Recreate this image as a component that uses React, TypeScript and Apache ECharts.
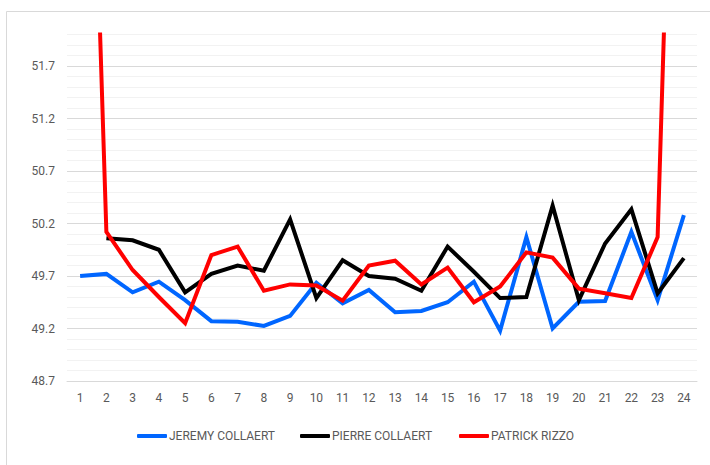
import React, { useEffect, useRef } from "react";
import * as echarts from "echarts";

const categories = ["1","2","3","4","5","6","7","8","9","10","11","12","13","14","15","16","17","18","19","20","21","22","23","24"];
const jeremy = [49.70,49.72,49.545,49.646,49.47,49.27,49.265,49.224,49.32,49.636,49.44,49.567,49.354,49.367,49.45,49.646,49.18,50.07,49.20,49.455,49.462,50.12,49.47,50.28];
const pierre: (number | null)[] = [null,50.06,50.04,49.95,49.545,49.72,49.80,49.75,50.24,49.49,49.85,49.70,49.674,49.56,49.98,49.74,49.49,49.50,50.37,49.47,50.01,50.335,49.535,49.87];
const patrick = [58.0,50.12,49.757,49.50,49.25,49.90,49.98,49.56,49.62,49.61,49.465,49.80,49.846,49.62,49.78,49.45,49.60,49.925,49.875,49.58,49.535,49.49,50.07,58.2];
const seriesNames = ["JEREMY COLLAERT", "PIERRE COLLAERT", "PATRICK RIZZO"];
const seriesColors = ["#0066ff", "#000000", "#ff0000"];
const yTickLabels = ["48.7", "49.2", "49.7", "50.2", "50.7", "51.2", "51.7"];

export default function App() {
  const ref = useRef<HTMLDivElement>(null);
  useEffect(() => {
    if (!ref.current) return;
    const chart = echarts.init(ref.current, null, { renderer: "svg" });
    const font = "Roboto, 'Noto Sans', sans-serif";
    const dataSets = [jeremy, pierre, patrick];
    const legendLefts = [132, 295, 454];
    chart.setOption({
      animation: false,
      backgroundColor: "#ffffff",
      graphic: [
        {
          type: "rect",
          shape: { x: 6.5, y: 11.5, width: 720, height: 470 },
          style: { fill: "none", stroke: "#d9d9d9", lineWidth: 1 },
          silent: true,
        },
      ],
      grid: { left: 67, right: 13, top: 34.5, bottom: 84 },
      legend: seriesNames.map((n, i) => ({
        data: [n],
        left: legendLefts[i],
        top: 425,
        icon: "roundRect",
        itemWidth: 30,
        itemHeight: 4,
        textStyle: { color: "#595959", fontSize: 12, fontFamily: font, padding: [0, 0, 0, -3] },
      })),
      xAxis: {
        type: "category",
        data: categories,
        boundaryGap: true,
        axisLine: { show: true, lineStyle: { color: "#d9d9d9", width: 1 } },
        axisTick: { show: false },
        axisLabel: { color: "#595959", fontSize: 12, fontFamily: font, margin: 11 },
        splitLine: { show: false },
      },
      yAxis: {
        type: "value",
        min: 48.7,
        max: 52.0,
        interval: 0.1,
        axisLine: { show: false },
        axisTick: { show: false },
        axisLabel: {
          color: "#595959",
          fontSize: 12,
          fontFamily: font,
          margin: 12,
          formatter: (v: number) => {
            const s = v.toFixed(1);
            return yTickLabels.includes(s) ? s : "";
          },
        },
        splitLine: {
          show: true,
          lineStyle: {
            color: ["#d9d9d9", "#f2f2f2", "#f2f2f2", "#f2f2f2", "#f2f2f2"],
            width: 1,
          },
        },
      },
      series: seriesNames.map((n, i) => ({
        name: n,
        type: "line",
        data: dataSets[i],
        symbol: "none",
        connectNulls: false,
        clip: true,
        lineStyle: { color: seriesColors[i], width: 4, join: "miter" },
        itemStyle: { color: seriesColors[i] },
      })),
    });
    return () => chart.dispose();
  }, []);
  return (
    <div
      ref={ref}
      style={{ position: "fixed", left: 0, top: 0, width: 710, height: 465 }}
    />
  );
}
